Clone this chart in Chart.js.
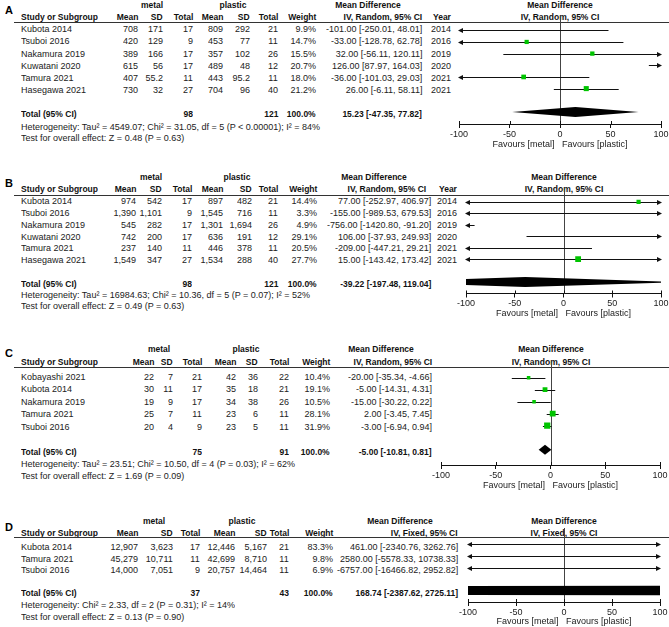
<!DOCTYPE html>
<html>
<head>
<meta charset="utf-8">
<script src="https://cdn.jsdelivr.net/npm/chart.js@4/dist/chart.umd.min.js"></script>
<style>
  html, body { margin: 0; padding: 0; background: #fff; overflow: hidden; }
  #stage { position: relative; width: 669px; height: 627px; background: #fff; overflow: hidden; }
  /* text is set at 2x and scaled down so glyph advances are not rounded */
  .t { position: absolute; font: 18px "Liberation Sans", Arial, sans-serif; line-height: 20px; height: 20px;
       color: #222; white-space: nowrap; }
  .b { font-size: 17px; font-weight: bold; color: #111; }
  .L { font-size: 22px; font-weight: bold; color: #000; }
  .rule { position: absolute; height: 1px; background: #333; }
  canvas { position: absolute; }
</style>
</head>
<body>
<div id="stage"></div>
<script>
// ---------------- DATA : A ----------------
const aStudies = ["Kubota 2014", "Tsuboi 2016", "Nakamura 2019", "Kuwatani 2020", "Tamura 2021", "Hasegawa 2021"];
const aYears = [2014, 2016, 2019, 2020, 2021, 2021];
const aMetalMean = [708, 420, 389, 615, 407, 730];
const aMetalSD = [171, 129, 166, 56, 55.2, 32];
const aMetalN = [17, 9, 17, 17, 11, 27];
const aPlasticMean = [809, 453, 357, 489, 443, 704];
const aPlasticSD = [292, 77, 102, 48, 95.2, 96];
const aPlasticN = [21, 11, 26, 12, 11, 40];
const aWeight = [9.9, 14.7, 15.5, 20.7, 18.0, 21.2];
const aMD = [-101.00, -33.00, 32.00, 126.00, -36.00, 26.00];
const aLo = [-250.01, -128.78, -56.11, 87.97, -101.03, -6.11];
const aHi = [48.01, 62.78, 120.11, 164.03, 29.03, 58.11];
const aTotal = [15.23, -47.35, 77.82];
const aTotalN = [98, 121];

// ---------------- DATA : B ----------------
const bStudies = ["Kubota 2014", "Tsuboi 2016", "Nakamura 2019", "Kuwatani 2020", "Tamura 2021", "Hasegawa 2021"];
const bYears = [2014, 2016, 2019, 2020, 2021, 2021];
const bMetalMean = [974, 1390, 545, 742, 237, 1549];
const bMetalSD = [542, 1101, 282, 200, 140, 347];
const bMetalN = [17, 9, 17, 17, 11, 27];
const bPlasticMean = [897, 1545, 1301, 636, 446, 1534];
const bPlasticSD = [482, 716, 1694, 191, 378, 288];
const bPlasticN = [21, 11, 26, 12, 11, 40];
const bWeight = [14.4, 3.3, 4.9, 29.1, 20.5, 27.7];
const bMD = [77.00, -155.00, -756.00, 106.00, -209.00, 15.00];
const bLo = [-252.97, -989.53, -1420.80, -37.93, -447.21, -143.42];
const bHi = [406.97, 679.53, -91.20, 249.93, 29.21, 173.42];
const bTotal = [-39.22, -197.48, 119.04];
const bTotalN = [98, 121];

// ---------------- DATA : C ----------------
const cStudies = ["Kobayashi 2021", "Kubota 2014", "Nakamura 2019", "Tamura 2021", "Tsuboi 2016"];
const cMetalMean = [22, 30, 19, 25, 20];
const cMetalSD = [7, 11, 9, 7, 4];
const cMetalN = [21, 17, 17, 11, 9];
const cPlasticMean = [42, 35, 34, 23, 23];
const cPlasticSD = [36, 18, 38, 6, 5];
const cPlasticN = [22, 21, 26, 11, 11];
const cWeight = [10.4, 19.1, 10.5, 28.1, 31.9];
const cMD = [-20.00, -5.00, -15.00, 2.00, -3.00];
const cLo = [-35.34, -14.31, -30.22, -3.45, -6.94];
const cHi = [-4.66, 4.31, 0.22, 7.45, 0.94];
const cTotal = [-5.00, -10.81, 0.81];
const cTotalN = [75, 91];

// ---------------- DATA : D ----------------
const dStudies = ["Kubota 2014", "Tamura 2021", "Tsuboi 2016"];
const dMetalMean = [12907, 45279, 14000];
const dMetalSD = [3623, 10711, 7051];
const dMetalN = [17, 11, 9];
const dPlasticMean = [12446, 42699, 20757];
const dPlasticSD = [5167, 8710, 14464];
const dPlasticN = [21, 11, 11];
const dWeight = [83.3, 9.8, 6.9];
const dMD = [461.00, 2580.00, -6757.00];
const dLo = [-2340.76, -5578.33, -16466.82];
const dHi = [3262.76, 10738.33, 2952.82];
const dTotal = [168.74, -2387.62, 2725.11];
const dTotalN = [37, 43];

// axis ticks / labels
const xTicks = [-100, -50, 0, 50, 100];
const tableHeads = ["Mean", "SD", "Total", "Mean", "SD", "Total", "Weight"];
const favoursText = "Favours [metal]   Favours [plastic]";

const panels = [
  {
    letter: "A", studies: aStudies, years: aYears,
    cells: [aMetalMean, aMetalSD, aMetalN, aPlasticMean, aPlasticSD, aPlasticN],
    weight: aWeight, md: aMD, lo: aLo, hi: aHi, total: aTotal, totalN: aTotalN,
    method: "IV, Random, 95% CI",
    het: "Heterogeneity: Tau\u00b2 = 4549.07; Chi\u00b2 = 31.05, df = 5 (P < 0.00001); I\u00b2 = 84%",
    test: "Test for overall effect: Z = 0.48 (P = 0.63)",
    pos: { letterY: 10, h1: 5, h2: 17, rule: 22, row0: 29.3, pitch: 12.1, het: 126.5, test: 137.5,
           plotL: 459, plotR: 661, axisY: 124, favY: 144,
           cols: [138, 163, 193, 223, 250, 278, 316], metalC: 152, plasticC: 233,
           mdHeadC: 368, ivRight: 422, mdRight: 422, yearRight: 451 }
  },
  {
    letter: "B", studies: bStudies, years: bYears,
    cells: [bMetalMean, bMetalSD, bMetalN, bPlasticMean, bPlasticSD, bPlasticN],
    weight: bWeight, md: bMD, lo: bLo, hi: bHi, total: bTotal, totalN: bTotalN,
    method: "IV, Random, 95% CI",
    het: "Heterogeneity: Tau\u00b2 = 16984.63; Chi\u00b2 = 10.36, df = 5 (P = 0.07); I\u00b2 = 52%",
    test: "Test for overall effect: Z = 0.49 (P = 0.63)",
    pos: { letterY: 183, h1: 177, h2: 189.3, rule: 194.5, row0: 200.8, pitch: 11.9, het: 294.5, test: 305.5,
           plotL: 466, plotR: 661, axisY: 293.5, favY: 313,
           cols: [136, 162, 192, 223, 252, 278, 317], metalC: 151, plasticC: 237,
           mdHeadC: 374, ivRight: 426, mdRight: 431, yearRight: 457 }
  },
  {
    letter: "C", studies: cStudies, years: null,
    cells: [cMetalMean, cMetalSD, cMetalN, cPlasticMean, cPlasticSD, cPlasticN],
    weight: cWeight, md: cMD, lo: cLo, hi: cHi, total: cTotal, totalN: cTotalN,
    method: "IV, Random, 95% CI",
    het: "Heterogeneity: Tau\u00b2 = 23.51; Chi\u00b2 = 10.50, df = 4 (P = 0.03); I\u00b2 = 62%",
    test: "Test for overall effect: Z = 1.69 (P = 0.09)",
    pos: { letterY: 353, h1: 349, h2: 362, rule: 367, row0: 376.5, pitch: 12.5, het: 464, test: 476,
           plotL: 441, plotR: 660, axisY: 465, favY: 485,
           cols: [154, 173, 202, 236, 258, 289, 330], metalC: 159, plasticC: 246,
           mdHeadC: 381, ivRight: 432, mdRight: 432 }
  },
  {
    letter: "D", studies: dStudies, years: null,
    cells: [dMetalMean, dMetalSD, dMetalN, dPlasticMean, dPlasticSD, dPlasticN],
    weight: dWeight, md: dMD, lo: dLo, hi: dHi, total: dTotal, totalN: dTotalN,
    method: "IV, Fixed, 95% CI",
    het: "Heterogeneity: Chi\u00b2 = 2.33, df = 2 (P = 0.31); I\u00b2 = 14%",
    test: "Test for overall effect: Z = 0.13 (P = 0.90)",
    pos: { letterY: 527, h1: 521, h2: 533, rule: 537, row0: 547, pitch: 11.5, het: 605, test: 617,
           plotL: 468, plotR: 660, axisY: 602, favY: 621,
           cols: [138, 173, 200, 235, 267, 289, 333], metalC: 154, plasticC: 242,
           mdHeadC: 400, ivRight: 458, mdRight: 458 }
  }
];

// ---------------- HELPERS ----------------
const stage = document.getElementById("stage");
const W = 669;
const FONT = "Liberation Sans";

function addText(x, y, s, align, cls) {
  const d = document.createElement("div");
  d.className = "t " + (cls || "");
  d.textContent = s;
  d.style.top = (y - 10) + "px";
  if (align === "right") {
    d.style.right = (W - x) + "px";
    d.style.transformOrigin = "right center";
    d.style.transform = "scale(0.5)";
  } else if (align === "center") {
    d.style.left = x + "px";
    d.style.transformOrigin = "center center";
    d.style.transform = "translateX(-50%) scale(0.5)";
  } else {
    d.style.left = x + "px";
    d.style.transformOrigin = "left center";
    d.style.transform = "scale(0.5)";
  }
  stage.appendChild(d);
  return d;
}

const fmt = v => v.toLocaleString("en-US");
const ci = (m, l, h) => `${m.toFixed(2)} [${l.toFixed(2)}, ${h.toFixed(2)}]`;

// ---------------- FOREST MARKS PLUGIN ----------------
const forestPlugin = {
  id: "forest",
  beforeDatasetsDraw(chart, args, opts) {
    const { ctx, chartArea, scales: { x, y } } = chart;
    const p = opts.panel;
    ctx.save();

    // line of no effect
    const x0 = Math.round(x.getPixelForValue(0)) + 0.5;
    ctx.strokeStyle = "#444";
    ctx.lineWidth = 1;
    ctx.beginPath();
    ctx.moveTo(x0, chartArea.top);
    ctx.lineTo(x0, chartArea.bottom);
    ctx.stroke();

    // upper half of the axis ticks
    ctx.strokeStyle = "#111";
    xTicks.forEach(v => {
      const xx = Math.round(x.getPixelForValue(v)) + 0.5;
      ctx.beginPath();
      ctx.moveTo(xx, chartArea.bottom - 3);
      ctx.lineTo(xx, chartArea.bottom);
      ctx.stroke();
    });

    // confidence intervals
    ctx.fillStyle = "#111";
    p.lo.forEach((lo, i) => {
      const hi = p.hi[i];
      const a = Math.max(lo, x.min), b = Math.min(hi, x.max);
      if (a > b) return;
      const yy = Math.round(y.getPixelForValue(i)) + 0.5;
      const xa = x.getPixelForValue(a), xb = x.getPixelForValue(b);
      ctx.beginPath();
      ctx.moveTo(xa, yy);
      ctx.lineTo(xb, yy);
      ctx.stroke();
      if (lo < x.min) arrow(ctx, xa, yy, -1);
      if (hi > x.max) arrow(ctx, xb, yy, 1);
    });

    // pooled diamond
    ctx.beginPath();
    ctx.rect(chartArea.left, chartArea.top, chartArea.width, chartArea.height);
    ctx.clip();
    const ty = y.getPixelForValue(p.studies.length + 1);
    ctx.fillStyle = "#000";
    ctx.beginPath();
    ctx.moveTo(x.getPixelForValue(p.total[1]), ty);
    ctx.lineTo(x.getPixelForValue(p.total[0]), ty - 5);
    ctx.lineTo(x.getPixelForValue(p.total[2]), ty);
    ctx.lineTo(x.getPixelForValue(p.total[0]), ty + 5);
    ctx.closePath();
    ctx.fill();
    ctx.restore();
  }
};

function arrow(ctx, x, y, dir) {
  ctx.beginPath();
  ctx.moveTo(x + dir * 1, y);
  ctx.lineTo(x - dir * 4, y - 2.5);
  ctx.lineTo(x - dir * 4, y + 2.5);
  ctx.closePath();
  ctx.fill();
}

// ---------------- BUILD PANELS ----------------
panels.forEach(p => {
  const q = p.pos;
  const n = p.studies.length;

  // letter + header
  addText(5, q.letterY, p.letter, "left", "L");

  addText(q.metalC, q.h1, "metal", "center", "b");
  addText(q.plasticC, q.h1, "plastic", "center", "b");
  addText(q.mdHeadC, q.h1, "Mean Difference", "center", "b");
  addText((q.plotL + q.plotR) / 2, q.h1, "Mean Difference", "center", "b");

  addText(21, q.h2, "Study or Subgroup", "left", "b");
  tableHeads.forEach((h, j) => addText(q.cols[j], q.h2, h, "right", "b"));
  addText(q.ivRight, q.h2, p.method, "right", "b");
  if (p.years) addText(q.yearRight, q.h2, "Year", "right", "b");
  addText((q.plotL + q.plotR) / 2, q.h2, p.method, "center", "b");

  const rule = document.createElement("div");
  rule.className = "rule";
  rule.style.left = "14px";
  rule.style.width = (W - 14) + "px";
  rule.style.top = Math.round(q.rule) + "px";
  stage.appendChild(rule);

  // study rows
  p.studies.forEach((s, i) => {
    const y = q.row0 + i * q.pitch;
    addText(21, y, s, "left");
    p.cells.forEach((arr, j) => addText(q.cols[j], y, fmt(arr[i]), "right"));
    addText(q.cols[6], y, p.weight[i].toFixed(1) + "%", "right");
    addText(q.mdRight, y, ci(p.md[i], p.lo[i], p.hi[i]), "right");
    if (p.years) addText(q.yearRight, y, String(p.years[i]), "right");
  });

  // total rows
  const ty = q.row0 + (n + 1) * q.pitch;
  addText(21, ty, "Total (95% CI)", "left", "b");
  addText(q.cols[2], ty, String(p.totalN[0]), "right", "b");
  addText(q.cols[5], ty, String(p.totalN[1]), "right", "b");
  addText(q.cols[6], ty, "100.0%", "right", "b");
  addText(q.mdRight, ty, ci(p.total[0], p.total[1], p.total[2]), "right", "b");
  addText(21, q.het, p.het, "left");
  addText(21, q.test, p.test, "left");

  // forest plot canvas
  const padL = 14, padR = 10;
  const top = Math.round(q.h2 - 5);
  const bottom = Math.round(q.favY + 6);
  const canvas = document.createElement("canvas");
  canvas.width = q.plotR - q.plotL + padL + padR;
  canvas.height = bottom - top;
  canvas.style.left = (q.plotL - padL) + "px";
  canvas.style.top = top + "px";
  stage.appendChild(canvas);

  const m0 = q.row0 - 2.5;
  const yMin = (top - m0) / q.pitch;
  const yMax = (q.axisY - m0) / q.pitch;
  const xh = bottom - q.axisY;

  const pts = p.md
    .map((v, i) => ({ x: v, y: i, w: p.weight[i] }))
    .filter(d => d.x >= xTicks[0] && d.x <= xTicks[xTicks.length - 1]);

  new Chart(canvas.getContext("2d"), {
    type: "scatter",
    data: {
      datasets: [{
        data: pts,
        pointStyle: "rect",
        pointRadius: c => (c.raw ? 1.1 * Math.sqrt(c.raw.w) / Math.SQRT2 : 2),
        pointBackgroundColor: "#00c400",
        pointBorderWidth: 0
      }]
    },
    options: {
      responsive: false,
      animation: false,
      events: [],
      layout: { padding: { left: padL, right: padR, top: 0, bottom: 0 } },
      plugins: { legend: { display: false }, tooltip: { enabled: false }, forest: { panel: p } },
      scales: {
        x: {
          type: "linear",
          min: xTicks[0], max: xTicks[xTicks.length - 1],
          afterBuildTicks: s => { s.ticks = xTicks.map(v => ({ value: v })); },
          afterFit: s => { s.height = xh; },
          ticks: { color: "#222", font: { family: FONT, size: 9 }, padding: 1, maxRotation: 0 },
          grid: { drawOnChartArea: false, color: "#111", tickLength: 4 },
          border: { color: "#111", width: 1 },
          title: { display: true, text: favoursText, color: "#222", font: { family: FONT, size: 9, lineHeight: 1.2 }, padding: 0 }
        },
        y: { type: "linear", display: false, reverse: true, min: yMin, max: yMax }
      }
    },
    plugins: [forestPlugin]
  });
});
</script>
</body>
</html>
